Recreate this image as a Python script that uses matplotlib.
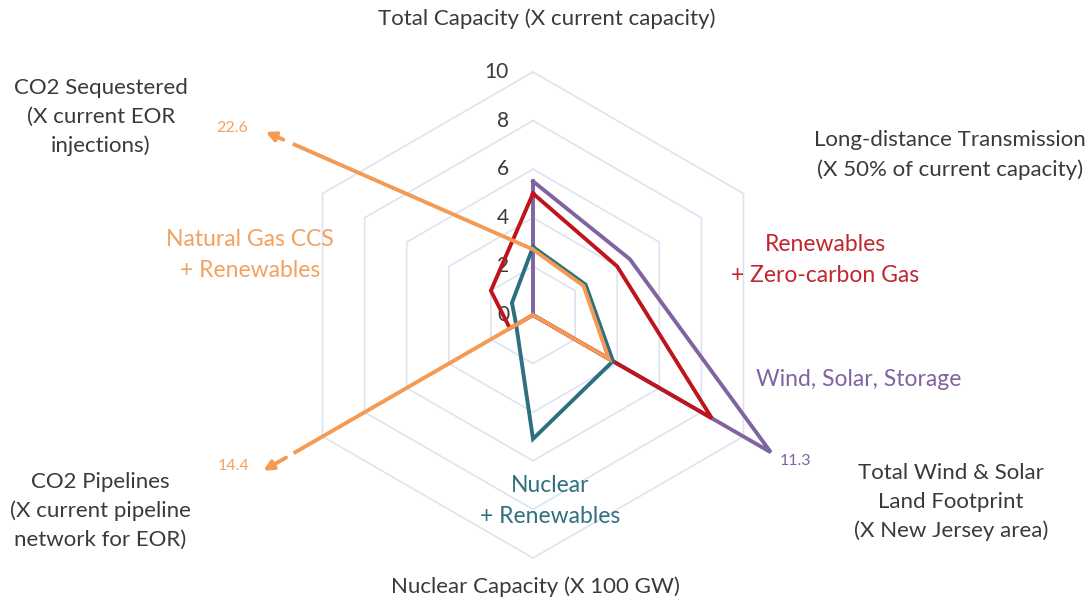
import numpy as np
import matplotlib
matplotlib.use("Agg")
import matplotlib.pyplot as plt
from matplotlib.transforms import offset_copy

plt.rcParams['font.family'] = ['Lato', 'DejaVu Sans']

# ---------------- data ----------------
categories = ["Total Capacity", "Long-distance Transmission", "Total Wind & Solar Land Footprint",
              "Nuclear Capacity", "CO2 Pipelines", "CO2 Sequestered"]
wind_solar_storage = [5.5, 4.6, 11.3, 0.0, 0.0, 0.0]
renewables_zero_gas = [5.0, 4.0, 8.5, 0.0, 1.1, 2.0]
nuclear_renewables = [2.8, 2.5, 3.8, 5.1, 0.8, 1.0]
gas_ccs_renewables = [2.7, 2.4, 3.6, 0.0, 14.4, 22.6]
ring_values = [2, 4, 6, 8, 10]
tick_labels = ["0", "2", "4", "6", "8", "10"]

PURPLE = "#8064A2"
RED = "#C0141C"
TEAL = "#2C6F7F"
ORANGE = "#F59A52"
GRID = "#DCE3F1"
TXT = "#3A3A3A"

W, H = 1091, 602
fig = plt.figure(figsize=(W / 100, H / 100), dpi=100)

# polar axes: centre at (533, 315) px, radius 10 -> 243 px
cx, cy, rad = 533, 315, 243
ax = fig.add_axes([(cx - rad) / W, (H - cy - rad) / H, 2 * rad / W, 2 * rad / H],
                  projection="polar")
ax.set_theta_zero_location("N")
ax.set_theta_direction(-1)
ax.set_ylim(0, 10)
ax.axis("off")

n = len(categories)
theta = np.arange(n) * 2 * np.pi / n


def to_xy(r, t):
    return np.array([r * np.sin(t), r * np.cos(t)])


def to_polar(p):
    return np.arctan2(p[0], p[1]), np.hypot(p[0], p[1])


# hexagonal grid rings
for rv in ring_values:
    tt = np.append(theta, theta[0])
    ax.plot(tt, [rv] * (n + 1), color=GRID, lw=1.2, zorder=1, clip_on=False)

# tick labels
lab_tr = offset_copy(ax.transData, fig=fig, x=-24, y=0, units="dots")
for i, lab in enumerate(tick_labels):
    ax.text(0, i * 2, lab, transform=lab_tr, ha="right", va="center",
            fontsize=15, color=TXT, zorder=2)


def closed(vals):
    v = list(vals) + [vals[0]]
    t = list(theta) + [theta[0]]
    return t, v


LW = 2.8
t, v = closed(wind_solar_storage)
ax.plot(t, v, color=PURPLE, lw=LW, zorder=3, clip_on=False, solid_joinstyle="miter")
t, v = closed(renewables_zero_gas)
ax.plot(t, v, color=RED, lw=LW, zorder=4, clip_on=False, solid_joinstyle="miter")
t, v = closed(nuclear_renewables)
ax.plot(t, v, color=TEAL, lw=LW, zorder=5, clip_on=False, solid_joinstyle="miter")

# orange series: inner part drawn normally, off-scale spokes truncated with arrows
g = gas_ccs_renewables
ax.plot(theta[:4], g[:4], color=ORANGE, lw=LW, zorder=6, clip_on=False, solid_joinstyle="miter")


def broken_edge(a_idx, b_idx, f_gap0, f_gap1, f_tip):
    A = to_xy(g[a_idx], theta[a_idx])
    B = to_xy(g[b_idx], theta[b_idx])
    p0 = to_polar(A)
    p1 = to_polar(A + (B - A) * f_gap0)
    p2 = to_polar(A + (B - A) * f_gap1)
    p3 = to_polar(A + (B - A) * f_tip)
    ax.plot([p0[0], p1[0]], [p0[1], p1[1]], color=ORANGE, lw=LW, zorder=6,
            clip_on=False, solid_capstyle="butt")
    ax.annotate("", xy=p3, xytext=p2, annotation_clip=False,
                arrowprops=dict(arrowstyle="-|>", color=ORANGE, lw=LW,
                                mutation_scale=14, shrinkA=0, shrinkB=0),
                zorder=6)


broken_edge(3, 4, 0.79, 0.815, 0.89)   # nuclear (0) -> CO2 pipelines (14.4)
broken_edge(0, 5, 0.505, 0.525, 0.562)  # total capacity -> CO2 sequestered (22.6)


def ftext(x, y, s, **kw):
    fig.text(x / W, 1 - y / H, s, ha="center", va="center", **kw)


cat_kw = dict(fontsize=16, color=TXT, linespacing=1.53)
ftext(547, 19, "Total Capacity (X current capacity)", **cat_kw)
ftext(950, 155, "Long-distance Transmission\n(X 50% of current capacity)", **cat_kw)
ftext(951, 502, "Total Wind & Solar\nLand Footprint\n(X New Jersey area)", **cat_kw)
ftext(535, 587, "Nuclear Capacity (X 100 GW)", **cat_kw)
ftext(100, 511, "CO2 Pipelines\n(X current pipeline\nnetwork for EOR)", **cat_kw)
ftext(101, 117, "CO2 Sequestered\n(X current EOR\ninjections)", **cat_kw)

ser_kw = dict(fontsize=16.5, linespacing=1.55)
ftext(250, 255, "Natural Gas CCS\n+ Renewables", color="#F2A260", **ser_kw)
ftext(825, 260, "Renewables\n+ Zero-carbon Gas", color="#C0272E", **ser_kw)
ftext(859, 380, "Wind, Solar, Storage", color=PURPLE, **ser_kw)
ftext(550, 501, "Nuclear\n+ Renewables", color="#31707F", **ser_kw)

ftext(795, 461, "11.3", fontsize=11.5, color=PURPLE)
ftext(232, 128, "22.6", fontsize=11.5, color="#F2A260")
ftext(234, 466, "14.4", fontsize=11.5, color="#F2A260")

fig.savefig("out.png", dpi=100, facecolor="white")
